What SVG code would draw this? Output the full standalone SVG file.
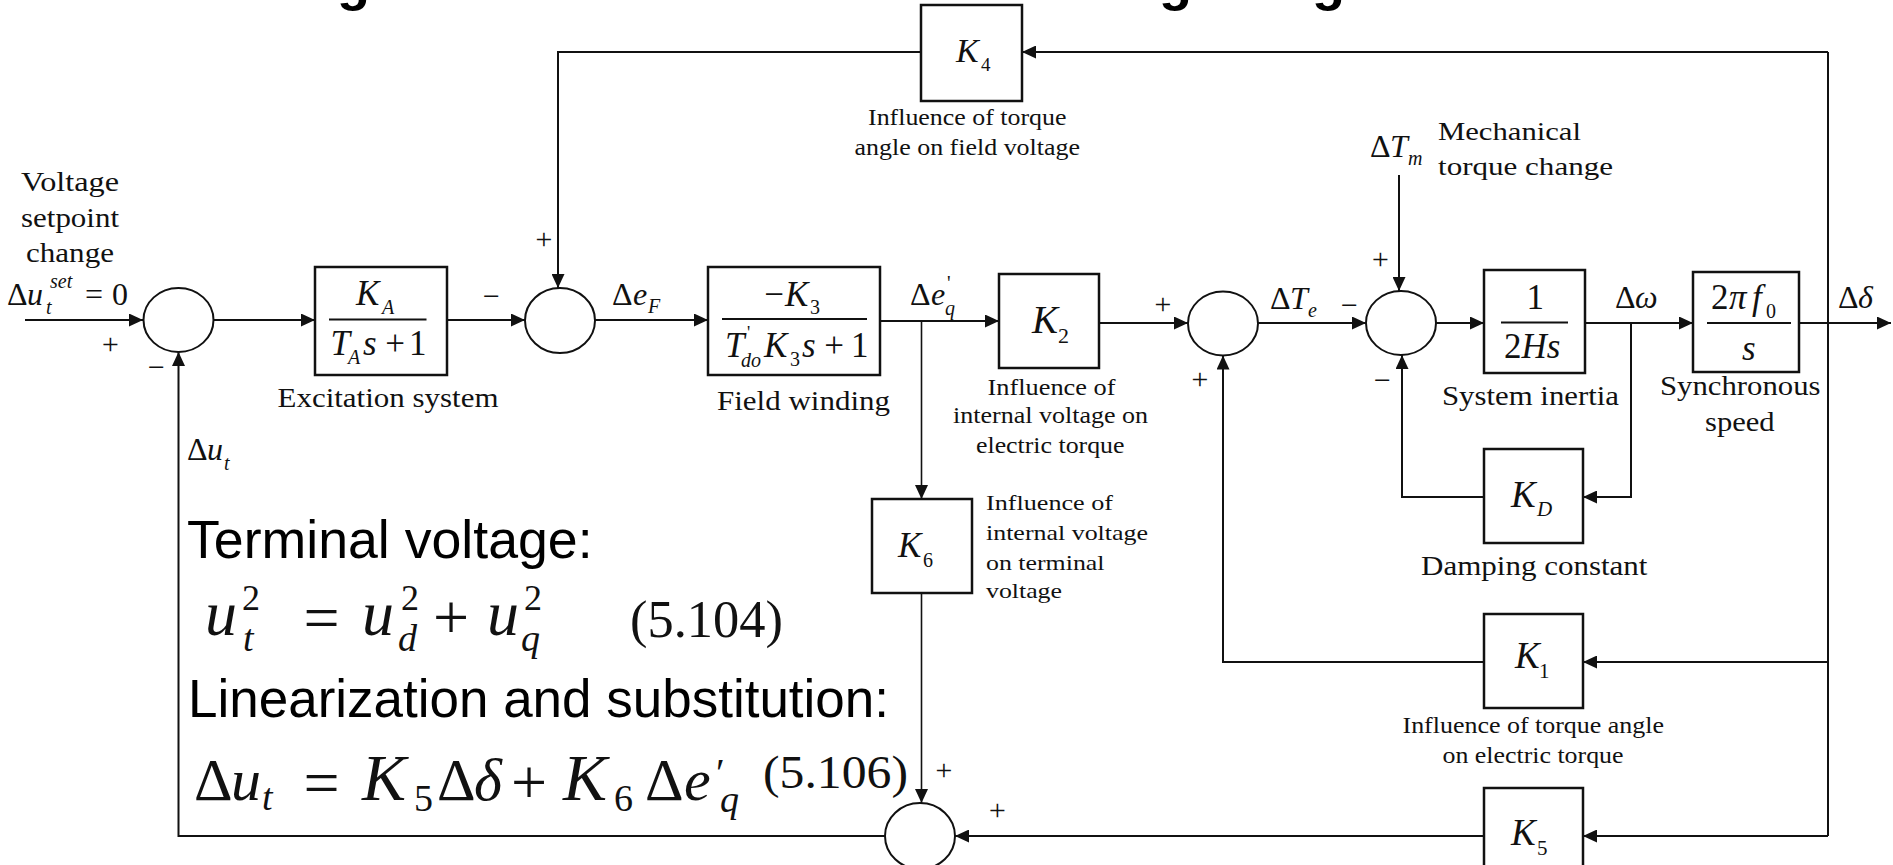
<svg xmlns="http://www.w3.org/2000/svg" width="1893" height="865" viewBox="0 0 1893 865">
<defs>
<marker id="arr" viewBox="0 0 14 13" markerWidth="14" markerHeight="13" refX="14" refY="6.5" orient="auto" markerUnits="userSpaceOnUse">
<path d="M0,0 L14,6.5 L0,13 z" fill="#111"/>
</marker>
<style>
.ln{fill:none;stroke:#111;stroke-width:2}
.bx{fill:#fff;stroke:#111;stroke-width:2.5}
.sum{fill:#fff;stroke:#111;stroke-width:2}
.bar{stroke:#111;stroke-width:2}
text{font-family:"Liberation Serif","Times New Roman",serif;fill:#111}
.i{font-style:italic}
.lab{font-size:28px}
.sm{font-size:23px}
.big{font-family:"Liberation Sans",Arial,sans-serif;font-size:53px;fill:#000}
.ttl{font-family:"Liberation Sans",Arial,sans-serif;font-size:54px;font-weight:bold;fill:#000}
.sg{font-size:30px;font-style:italic}
.mn{font-size:32px}
</style>
</defs>
<rect width="1893" height="865" fill="#fff"/>

<!-- cropped title descenders -->
<g id="title">
<text class="ttl" x="337" y="0">g</text>
<text class="ttl" x="1159" y="0">g</text>
<text class="ttl" x="1312" y="0">g</text>
</g>

<!-- connectors -->
<g id="connectors">
<path class="ln" d="M25,320 H143" marker-end="url(#arr)"/>
<path class="ln" d="M213,320 H315" marker-end="url(#arr)"/>
<path class="ln" d="M447,320 H525" marker-end="url(#arr)"/>
<path class="ln" d="M595,320 H708" marker-end="url(#arr)"/>
<path class="ln" d="M880,321 H999" marker-end="url(#arr)"/>
<path class="ln" d="M921.5,321 V499" marker-end="url(#arr)" style="stroke-width:1.6"/>
<path class="ln" d="M1099,323 H1188" marker-end="url(#arr)"/>
<path class="ln" d="M1258,323 H1366" marker-end="url(#arr)"/>
<path class="ln" d="M1436,323 H1484" marker-end="url(#arr)"/>
<path class="ln" d="M1585,323 H1693" marker-end="url(#arr)"/>
<path class="ln" d="M1631,323 V497 H1583" marker-end="url(#arr)"/>
<path class="ln" d="M1484,497 H1402 V355" marker-end="url(#arr)"/>
<path class="ln" d="M1399,175 V291" marker-end="url(#arr)"/>
<path class="ln" d="M1799,323 H1891" marker-end="url(#arr)"/>
<path class="ln" d="M1828,52 V836"/>
<path class="ln" d="M1828,52 H1022" marker-end="url(#arr)"/>
<path class="ln" d="M921,52 H558 V288" marker-end="url(#arr)"/>
<path class="ln" d="M1828,662 H1583" marker-end="url(#arr)"/>
<path class="ln" d="M1484,662 H1223 V355.5" marker-end="url(#arr)"/>
<path class="ln" d="M1828,836 H1583" marker-end="url(#arr)"/>
<path class="ln" d="M1484,836 H955" marker-end="url(#arr)"/>
<path class="ln" d="M921.5,593 V803" marker-end="url(#arr)" style="stroke-width:1.6"/>
<path class="ln" d="M885,836 H178.5 V352" marker-end="url(#arr)"/>
</g>

<!-- input label -->
<g id="input">
<text class="lab" x="21" y="191" textLength="98" lengthAdjust="spacingAndGlyphs">Voltage</text>
<text class="lab" x="21" y="227" textLength="98" lengthAdjust="spacingAndGlyphs">setpoint</text>
<text class="lab" x="26" y="262" textLength="88" lengthAdjust="spacingAndGlyphs">change</text>
<text class="mn" x="7" y="305">Δ</text>
<text class="mn i" x="27" y="305">u</text>
<text class="i" x="46" y="314" font-size="20">t</text>
<text class="i" x="50" y="288" font-size="20">set</text>
<text class="mn" x="94" y="305" text-anchor="middle">=</text>
<text class="mn" x="112" y="305">0</text>
<text class="sg" x="110" y="354" text-anchor="middle">+</text>
</g>

<!-- summing junction 1 -->
<g id="sum1">
<ellipse class="sum" cx="178.5" cy="320" rx="35" ry="32"/>
<text class="sg" x="156" y="377" text-anchor="middle">−</text>
<text class="mn" x="187" y="460">Δ</text>
<text class="mn i" x="207" y="460">u</text>
<text class="i" x="224" y="470" font-size="20">t</text>
</g>

<!-- excitation system -->
<g id="excitation">
<rect class="bx" x="315" y="267" width="132" height="108"/>
<text class="i" x="356" y="305" font-size="35">K</text>
<text class="i" x="382" y="314" font-size="20">A</text>
<line class="bar" x1="329" y1="319.5" x2="426.5" y2="319.5"/>
<text class="i" x="330.5" y="355" font-size="35">T</text>
<text class="i" x="348" y="364" font-size="20">A</text>
<text class="i" x="363" y="355" font-size="35">s</text>
<text x="395" y="355" font-size="35" text-anchor="middle">+</text>
<text x="409" y="355" font-size="35">1</text>
<text class="lab" x="277.5" y="407" textLength="221" lengthAdjust="spacingAndGlyphs">Excitation system</text>
</g>

<!-- summing junction 2 -->
<g id="sum2">
<ellipse class="sum" cx="560" cy="320.5" rx="35" ry="32.5"/>
<text class="sg" x="491" y="306" text-anchor="middle">−</text>
<text class="sg" x="543.5" y="249" text-anchor="middle">+</text>
<text class="mn" x="612" y="305">Δ</text>
<text class="mn i" x="633" y="305">e</text>
<text class="i" x="648" y="313" font-size="20">F</text>
</g>

<!-- K4 -->
<g id="k4">
<rect class="bx" x="921" y="5" width="101" height="96"/>
<text class="i" x="956" y="62" font-size="34">K</text>
<text x="981" y="71" font-size="19">4</text>
<text class="sm" x="868" y="125" textLength="198.5" lengthAdjust="spacingAndGlyphs">Influence of torque</text>
<text class="sm" x="854.5" y="155" textLength="225.5" lengthAdjust="spacingAndGlyphs">angle on field voltage</text>
</g>

<!-- field winding -->
<g id="field">
<rect class="bx" x="708" y="267" width="172" height="108"/>
<text x="774" y="306" font-size="35" text-anchor="middle">−</text>
<text class="i" x="785" y="306" font-size="35">K</text>
<text x="810" y="314" font-size="20">3</text>
<line class="bar" x1="722" y1="319" x2="867" y2="319"/>
<text class="i" x="725" y="357" font-size="35">T</text>
<text x="747" y="339" font-size="18">'</text>
<text class="i" x="741" y="367" font-size="20">do</text>
<text class="i" x="764" y="357" font-size="35">K</text>
<text x="790" y="366" font-size="20">3</text>
<text class="i" x="802" y="357" font-size="35">s</text>
<text x="834" y="357" font-size="35" text-anchor="middle">+</text>
<text x="851" y="357" font-size="35">1</text>
<text class="lab" x="717" y="410" textLength="173" lengthAdjust="spacingAndGlyphs">Field winding</text>
<text class="mn" x="910" y="305">Δ</text>
<text class="mn i" x="931" y="305">e</text>
<text x="947" y="290" font-size="20">'</text>
<text class="i" x="945" y="315" font-size="20">q</text>
</g>

<!-- K2 -->
<g id="k2">
<rect class="bx" x="999" y="274" width="100" height="94"/>
<text class="i" x="1032" y="333" font-size="39">K</text>
<text x="1058" y="343" font-size="22">2</text>
<text class="sm" x="987.5" y="395" textLength="128" lengthAdjust="spacingAndGlyphs">Influence of</text>
<text class="sm" x="953" y="423" textLength="195" lengthAdjust="spacingAndGlyphs">internal voltage on</text>
<text class="sm" x="976" y="453" textLength="148.5" lengthAdjust="spacingAndGlyphs">electric torque</text>
</g>

<!-- K6 -->
<g id="k6">
<rect class="bx" x="872" y="499" width="100" height="94"/>
<text class="i" x="898" y="557" font-size="35">K</text>
<text x="923" y="567" font-size="20">6</text>
<text font-size="22" x="986" y="510" textLength="127" lengthAdjust="spacingAndGlyphs">Influence of</text>
<text font-size="22" x="986" y="540" textLength="162" lengthAdjust="spacingAndGlyphs">internal voltage</text>
<text font-size="22" x="986" y="570" textLength="118.5" lengthAdjust="spacingAndGlyphs">on terminal</text>
<text font-size="22" x="986" y="598" textLength="76" lengthAdjust="spacingAndGlyphs">voltage</text>
</g>

<!-- summing junction 3 -->
<g id="sum3">
<ellipse class="sum" cx="1223" cy="323.5" rx="35" ry="32"/>
<text class="sg" x="1162.5" y="314" text-anchor="middle">+</text>
<text class="sg" x="1199.5" y="389" text-anchor="middle">+</text>
<text class="mn" x="1270" y="309">Δ</text>
<text class="mn i" x="1290" y="309">T</text>
<text class="i" x="1308" y="317" font-size="20">e</text>
</g>

<!-- summing junction 4 -->
<g id="sum4">
<ellipse class="sum" cx="1401" cy="323" rx="35" ry="32"/>
<text class="sg" x="1349" y="315" text-anchor="middle">−</text>
<text class="sg" x="1380" y="269" text-anchor="middle">+</text>
<text class="sg" x="1382" y="390" text-anchor="middle">−</text>
<text class="mn" x="1370" y="157">Δ</text>
<text class="mn i" x="1390" y="157">T</text>
<text class="i" x="1408" y="165" font-size="20">m</text>
<text font-size="25" x="1438" y="140" textLength="143" lengthAdjust="spacingAndGlyphs">Mechanical</text>
<text font-size="25" x="1438" y="175" textLength="175" lengthAdjust="spacingAndGlyphs">torque change</text>
</g>

<!-- system inertia -->
<g id="inertia">
<rect class="bx" x="1484" y="270" width="101" height="103"/>
<text x="1526.5" y="309" font-size="35">1</text>
<line class="bar" x1="1501" y1="322.5" x2="1568" y2="322.5"/>
<text x="1504" y="358" font-size="35">2<tspan class="i">Hs</tspan></text>
<text class="lab" x="1442" y="405" textLength="177" lengthAdjust="spacingAndGlyphs">System inertia</text>
<text class="mn" x="1615" y="308">Δ</text>
<text class="mn i" x="1635" y="308">ω</text>
</g>

<!-- synchronous speed -->
<g id="sync">
<rect class="bx" x="1693" y="272" width="106" height="100"/>
<text x="1711" y="309" font-size="35">2</text>
<text class="i" x="1729" y="309" font-size="35">π</text>
<text class="i" x="1752" y="309" font-size="35">f</text>
<text x="1766" y="318" font-size="20">0</text>
<line class="bar" x1="1707" y1="323" x2="1791" y2="323"/>
<text class="i" x="1742" y="360" font-size="35">s</text>
<text class="lab" x="1660" y="395" textLength="160.5" lengthAdjust="spacingAndGlyphs">Synchronous</text>
<text class="lab" x="1705" y="431" textLength="69.6" lengthAdjust="spacingAndGlyphs">speed</text>
<text class="mn" x="1838" y="308">Δ</text>
<text class="mn i" x="1858" y="308">δ</text>
</g>

<!-- KD -->
<g id="kd">
<rect class="bx" x="1484" y="449" width="99" height="94"/>
<text class="i" x="1511" y="507" font-size="37">K</text>
<text class="i" x="1537" y="516" font-size="21">D</text>
<text class="lab" x="1421" y="575" textLength="226.5" lengthAdjust="spacingAndGlyphs">Damping constant</text>
</g>

<!-- K1 -->
<g id="k1">
<rect class="bx" x="1484" y="614" width="99" height="94"/>
<text class="i" x="1515" y="668" font-size="37">K</text>
<text x="1539" y="678" font-size="21">1</text>
<text font-size="24" x="1402.5" y="733" textLength="261.5" lengthAdjust="spacingAndGlyphs">Influence of torque angle</text>
<text font-size="24" x="1442.5" y="763" textLength="181" lengthAdjust="spacingAndGlyphs">on electric torque</text>
</g>

<!-- K5 -->
<g id="k5">
<rect class="bx" x="1484" y="788" width="99" height="94"/>
<text class="i" x="1511" y="845" font-size="37">K</text>
<text x="1537" y="855" font-size="21">5</text>
</g>

<!-- summing junction 5 -->
<g id="sum5">
<ellipse class="sum" cx="920" cy="836" rx="35" ry="33"/>
<text class="sg" x="943.5" y="780" text-anchor="middle" font-size="26">+</text>
<text class="sg" x="997" y="820" text-anchor="middle" font-size="26">+</text>
</g>

<!-- equations -->
<g id="equations">
<text class="big" x="187" y="558" textLength="405.6" lengthAdjust="spacingAndGlyphs">Terminal voltage:</text>
<text class="big" x="188" y="717" textLength="701" lengthAdjust="spacingAndGlyphs">Linearization and substitution:</text>

<text class="i" x="205" y="635" font-size="64">u</text>
<text x="242" y="610" font-size="36">2</text>
<text class="i" x="243" y="651" font-size="38">t</text>
<text x="321.5" y="639" font-size="64" text-anchor="middle">=</text>
<text class="i" x="362" y="635" font-size="64">u</text>
<text x="401" y="610" font-size="36">2</text>
<text class="i" x="398" y="651" font-size="38">d</text>
<text x="451" y="639" font-size="64" text-anchor="middle">+</text>
<text class="i" x="487" y="635" font-size="64">u</text>
<text x="524" y="610" font-size="36">2</text>
<text class="i" x="521" y="651" font-size="38">q</text>
<text x="630" y="637" font-size="52" textLength="153" lengthAdjust="spacingAndGlyphs">(5.104)</text>

<text x="194" y="800" font-size="60">Δ</text>
<text class="i" x="231" y="800" font-size="60">u</text>
<text class="i" x="262" y="810" font-size="38">t</text>
<text x="321.5" y="804" font-size="64" text-anchor="middle">=</text>
<text class="i" x="362" y="800" font-size="66">K</text>
<text x="414" y="811" font-size="38">5</text>
<text x="437" y="800" font-size="60">Δ</text>
<text class="i" x="474" y="800" font-size="60">δ</text>
<text x="529" y="804" font-size="64" text-anchor="middle">+</text>
<text class="i" x="563" y="800" font-size="66">K</text>
<text x="614" y="811" font-size="38">6</text>
<text x="645" y="800" font-size="60">Δ</text>
<text class="i" x="684" y="800" font-size="60">e</text>
<text x="716" y="786" font-size="40">′</text>
<text class="i" x="720" y="812" font-size="38">q</text>
<text x="763" y="788" font-size="46" textLength="145" lengthAdjust="spacingAndGlyphs">(5.106)</text>
</g>
</svg>
